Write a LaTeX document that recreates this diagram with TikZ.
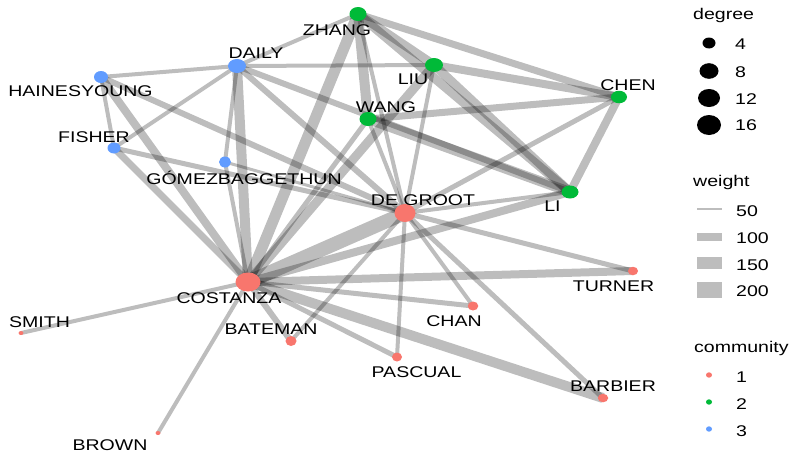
\documentclass[tikz,border=0pt]{standalone}
\usepackage{fontspec}
\setmainfont{Liberation Sans}
\usetikzlibrary{shapes.geometric}
\definecolor{cA}{HTML}{F8766D}
\definecolor{cB}{HTML}{00BA38}
\definecolor{cC}{HTML}{619CFF}
\newcommand{\sx}[1]{\scalebox{1.26}[1]{#1}}
\tikzset{
  edg/.style={draw=black, draw opacity=0.26, line width=#1},
  nd/.style n args={3}{ellipse, inner sep=0pt, draw=none, fill=#1, minimum width=#2, minimum height=#3},
  lbl/.style={font=\fontsize{15.5}{16}\selectfont, anchor=base, inner sep=0pt},
  lgl/.style={font=\fontsize{15.5}{16}\selectfont, anchor=base west, inner sep=0pt},
}
\begin{document}
\begin{tikzpicture}[x=1pt,y=-1pt]
\useasboundingbox (0,0) rectangle (795,455);
% node positions
\coordinate (pcostanza) at (248,282);
\coordinate (pdegroot) at (405,213);
\coordinate (pdaily) at (237,66);
\coordinate (phaines) at (101,77);
\coordinate (pfisher) at (114,148);
\coordinate (pgomez) at (225,162);
\coordinate (pzhang) at (358,14);
\coordinate (pliu) at (434,65);
\coordinate (pwang) at (368,119);
\coordinate (pchen) at (619,97);
\coordinate (pli) at (570,192);
\coordinate (psmith) at (21,333);
\coordinate (pbrown) at (158,433);
\coordinate (pbateman) at (291,341);
\coordinate (ppascual) at (397,357);
\coordinate (pchan) at (473,306);
\coordinate (pturner) at (633,271);
\coordinate (pbarbier) at (603,398);
% edges
\draw[edg=14] (pcostanza) -- (pdegroot);
\draw[edg=10] (pcostanza) -- (pdaily);
\draw[edg=11] (pcostanza) -- (pzhang);
\draw[edg=9] (pcostanza) -- (pliu);
\draw[edg=5] (pcostanza) -- (pwang);
\draw[edg=8] (pcostanza) -- (phaines);
\draw[edg=7] (pcostanza) -- (pfisher);
\draw[edg=4] (pcostanza) -- (pgomez);
\draw[edg=4] (pcostanza) -- (psmith);
\draw[edg=4] (pcostanza) -- (pbrown);
\draw[edg=6] (pcostanza) -- (pbateman);
\draw[edg=5] (pcostanza) -- (ppascual);
\draw[edg=5] (pcostanza) -- (pchan);
\draw[edg=8] (pcostanza) -- (pturner);
\draw[edg=10] (pcostanza) -- (pbarbier);
\draw[edg=8] (pcostanza) -- (pli);
\draw[edg=4] (pdegroot) -- (pzhang);
\draw[edg=4] (pdegroot) -- (pliu);
\draw[edg=4] (pdegroot) -- (pwang);
\draw[edg=5] (pdegroot) -- (pchen);
\draw[edg=4] (pdegroot) -- (pli);
\draw[edg=6] (pdegroot) -- (pdaily);
\draw[edg=6] (pdegroot) -- (phaines);
\draw[edg=5] (pdegroot) -- (pfisher);
\draw[edg=3] (pdegroot) -- (pgomez);
\draw[edg=5] (pdegroot) -- (pturner);
\draw[edg=4] (pdegroot) -- (pchan);
\draw[edg=4] (pdegroot) -- (ppascual);
\draw[edg=5] (pdegroot) -- (pbarbier);
\draw[edg=4] (pdegroot) -- (pbateman);
\draw[edg=9] (pzhang) -- (pliu);
\draw[edg=9] (pzhang) -- (pli);
\draw[edg=9] (pliu) -- (pli);
\draw[edg=10] (pzhang) -- (pwang);
\draw[edg=7] (pzhang) -- (pchen);
\draw[edg=8] (pliu) -- (pchen);
\draw[edg=7] (pwang) -- (pchen);
\draw[edg=8] (pli) -- (pchen);
\draw[edg=10] (pwang) -- (pli);
\draw[edg=4] (pdaily) -- (pliu);
\draw[edg=4] (pdaily) -- (pzhang);
\draw[edg=6] (pdaily) -- (pli);
\draw[edg=4] (pdaily) -- (phaines);
\draw[edg=4] (pdaily) -- (pfisher);
\draw[edg=4] (pdaily) -- (pgomez);
\draw[edg=4] (phaines) -- (pfisher);
% nodes
\node[nd={cA}{25pt}{19pt}] (costanza) at (pcostanza) {};
\node[nd={cA}{21pt}{18pt}] (degroot) at (pdegroot) {};
\node[nd={cC}{18pt}{14pt}] (daily) at (pdaily) {};
\node[nd={cC}{14pt}{12pt}] (haines) at (phaines) {};
\node[nd={cC}{13pt}{11pt}] (fisher) at (pfisher) {};
\node[nd={cC}{12pt}{11pt}] (gomez) at (pgomez) {};
\node[nd={cB}{17pt}{14pt}] (zhang) at (pzhang) {};
\node[nd={cB}{18pt}{14pt}] (liu) at (pliu) {};
\node[nd={cB}{17pt}{14pt}] (wang) at (pwang) {};
\node[nd={cB}{16pt}{12.5pt}] (chen) at (pchen) {};
\node[nd={cB}{17pt}{13pt}] (li) at (pli) {};
\node[nd={cA}{5pt}{4pt}] (smith) at (psmith) {};
\node[nd={cA}{5pt}{4pt}] (brown) at (pbrown) {};
\node[nd={cA}{11pt}{10pt}] (bateman) at (pbateman) {};
\node[nd={cA}{10pt}{9pt}] (pascual) at (ppascual) {};
\node[nd={cA}{10.5pt}{9pt}] (chan) at (pchan) {};
\node[nd={cA}{10pt}{8.5pt}] (turner) at (pturner) {};
\node[nd={cA}{10.5pt}{8.5pt}] (barbier) at (pbarbier) {};
% labels
\node[lbl] (lzhang) at (337,35) {\sx{ZHANG}};
\node[lbl] (lliu) at (413,84.3) {\sx{LIU}};
\node[lbl] (lchen) at (628,90.7) {\sx{CHEN}};
\node[lbl] (lwang) at (386,112) {\sx{WANG}};
\node[lbl] (lli) at (552.5,211.3) {\sx{LI}};
\node[lbl] (ldegroot) at (423,205.7) {\sx{DE GROOT}};
\node[lbl] (ldaily) at (256,58.7) {\sx{DAILY}};
\node[lbl] (lhaines) at (80.5,96.7) {\sx{HAINESYOUNG}};
\node[lbl] (lfisher) at (94,142) {\sx{FISHER}};
\node[lbl] (lgomez) at (244,184) {\sx{GÓMEZBAGGETHUN}};
\node[lbl] (lcostanza) at (229,303.3) {\sx{COSTANZA}};
\node[lbl] (lsmith) at (39.5,327) {\sx{SMITH}};
\node[lbl] (lbrown) at (110,450) {\sx{BROWN}};
\node[lbl] (lbateman) at (271,334.7) {\sx{BATEMAN}};
\node[lbl] (lpascual) at (416.5,377) {\sx{PASCUAL}};
\node[lbl] (lchan) at (454,326.3) {\sx{CHAN}};
\node[lbl] (lturner) at (613.5,291) {\sx{TURNER}};
\node[lbl] (lbarbier) at (613,391) {\sx{BARBIER}};
% legend: degree
\node[lgl] (tdeg) at (693,19.3) {\sx{degree}};
\node[nd={black}{13pt}{11pt}] (d4) at (709,43) {};
\node[nd={black}{19pt}{15.6pt}] (d8) at (709,71) {};
\node[nd={black}{22pt}{18pt}] (d12) at (709,98) {};
\node[nd={black}{24pt}{20pt}] (d16) at (709,125) {};
\node[lgl] (td4) at (735,49.3) {\sx{4}};
\node[lgl] (td8) at (735,77.3) {\sx{8}};
\node[lgl] (td12) at (735,104) {\sx{12}};
\node[lgl] (td16) at (735,130.7) {\sx{16}};
% legend: weight
\node[lgl] (twt) at (693,186) {\sx{weight}};
\coordinate (w1a) at (697,209); \coordinate (w1b) at (722,209);
\coordinate (w2a) at (697,237); \coordinate (w2b) at (722,237);
\coordinate (w3a) at (697,263); \coordinate (w3b) at (722,263);
\coordinate (w4a) at (697,290); \coordinate (w4b) at (722,290);
\draw[edg=2.8] (w1a) -- (w1b);
\draw[edg=8] (w2a) -- (w2b);
\draw[edg=12.7] (w3a) -- (w3b);
\draw[edg=16] (w4a) -- (w4b);
\node[lgl] (tw1) at (736,216.7) {\sx{50}};
\node[lgl] (tw2) at (736,243.3) {\sx{100}};
\node[lgl] (tw3) at (736,270) {\sx{150}};
\node[lgl] (tw4) at (736,296.7) {\sx{200}};
% legend: community
\node[lgl] (tcom) at (694,352.5) {\sx{community}};
\node[nd={cA}{6pt}{5.4pt}] (c1) at (709,375) {};
\node[nd={cB}{6pt}{5.4pt}] (c2) at (709,402) {};
\node[nd={cC}{6pt}{5.4pt}] (c3) at (709,429) {};
\node[lgl] (tc1) at (736,382.3) {\sx{1}};
\node[lgl] (tc2) at (736,409.3) {\sx{2}};
\node[lgl] (tc3) at (736,436.7) {\sx{3}};
\end{tikzpicture}
\end{document}
